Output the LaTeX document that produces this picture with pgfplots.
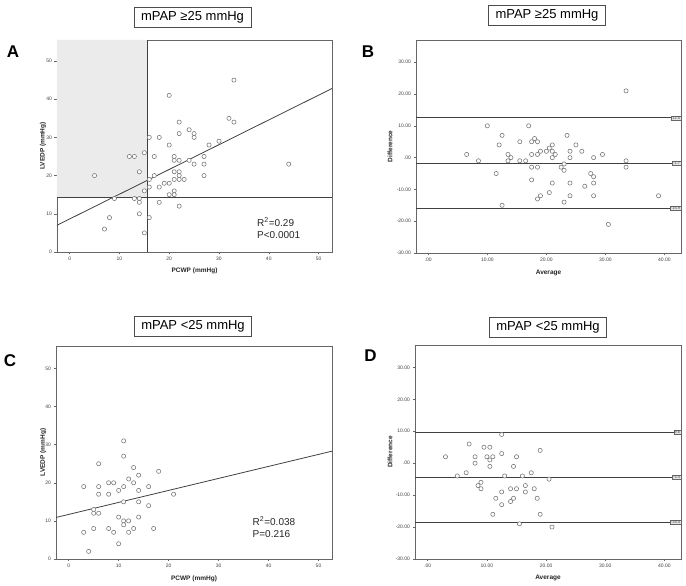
\documentclass[border=0pt]{standalone}
\usepackage{pgfplots}
\pgfplotsset{compat=1.18}
\usepackage{fontspec}
\setmainfont{Liberation Sans}
\begin{document}
\begin{tikzpicture}[x=1pt,y=1pt]
\path[use as bounding box] (0,0) rectangle (686,586);
\pgfplotsset{
  panel/.style={scale only axis, anchor=south west,
    axis line style={black!60, line width=0.9pt},
    tick style={black!60, line width=0.5pt}, major tick length=2.5pt,
    tick align=outside, tick pos=left,
    ticklabel style={font=\fontsize{5}{6}\selectfont, text=black!75},
    xticklabel style={yshift=1pt}, yticklabel style={xshift=1pt},
    /pgf/number format/assume math mode=true,
    label style={font=\fontsize{6.5}{7}\selectfont\bfseries, text=black!85}},
  pts/.style={only marks, mark=*, mark size=2.1pt, mark options={draw=black!55, fill=white, line width=0.55pt}},
  fitline/.style={black!75, line width=0.8pt, no marks},
}
\tikzset{
  ba/.style={anchor=east, draw=black!60, fill=black!10, inner sep=0.7pt, font=\fontsize{4}{4.5}\selectfont, text=black!70},
  ttl/.style={draw=black!70, line width=0.8pt, minimum width=117pt, minimum height=20pt, inner sep=1pt, font=\fontsize{13}{14}\selectfont},
  letter/.style={font=\fontsize{17}{18}\selectfont\bfseries},
  stat/.style={anchor=west, align=left, font=\fontsize{10}{12}\selectfont, text=black!85},
}
% ---------------- A ----------------
\begin{axis}[panel, at={(57pt,334pt)}, width=275pt, height=212pt,
  xmin=-2.54, xmax=52.7, ymin=0, ymax=55.5,
  xtick={0,10,...,50}, ytick={0,10,...,50},
  xlabel={PCWP (mmHg)}, ylabel={LVEDP (mmHg)},
  xlabel style={at={(axis description cs:0.5,-0.088)}, anchor=center},
  ylabel style={at={(axis description cs:-0.051,0.5)}, anchor=center}]
\addplot[fill=black!8, draw=none] coordinates {(-2.54,14.3) (15.7,14.3) (15.7,55.5) (-2.54,55.5)} \closedcycle;
\addplot[fitline] coordinates {(15.7,0) (15.7,55.5)};
\addplot[fitline] coordinates {(-2.54,14.3) (52.7,14.3)};
\addplot[fitline] coordinates {(-2.54,7.0) (52.7,42.8)};
\addplot[pts] table {
5 20
7 6
8 9
9 14
12 25
13 25
13 14
14 14
14 13
14 21
14 10
15 5
15 26
15 16
16 30
16 19
16 17
16 9
17 25
17 20
18 17
18 30
18 13
19 18
20 41
20 28
20 18
20 15
21 25
21 24
21 21
21 19
21 16
21 15
22 34
22 31
22 24
22 21
22 20
22 19
22 12
23 19
24 32
24 24
25 31
25 30
25 23
27 25
27 23
27 20
28 28
30 29
32 35
33 34
33 45
44 23
};
\node[stat] at (rel axis cs:0.715,0.113) {R\textsuperscript{2}=0.29\\P<0.0001};
\end{axis}
% ---------------- B ----------------
\begin{axis}[panel, at={(416pt,333pt)}, width=265pt, height=213pt,
  xmin=-2.08, xmax=42.8, ymin=-30, ymax=37,
  xtick={0,10,20,30,40}, xticklabels={.00,10.00,20.00,30.00,40.00},
  ytick={-30,-20,...,30}, yticklabels={-30.00,-20.00,-10.00,.00,10.00,20.00,30.00},
  xlabel={Average}, ylabel={Difference},
  xlabel style={at={(axis description cs:0.5,-0.095)}, anchor=center},
  ylabel style={at={(axis description cs:-0.098,0.5)}, anchor=center}]
\addplot[fitline] coordinates {(-2.08,12.5) (42.8,12.5)};
\addplot[fitline] coordinates {(-2.08,-1.8) (42.8,-1.8)};
\addplot[fitline] coordinates {(-2.08,-16.0) (42.8,-16.0)};
\addplot[pts] table {
6.5 1
8.5 -1
10 10
11.5 -5
12 4
12.5 7
12.5 -15
13.5 1
13.5 -1
14 0
15.5 5
15.5 -1
16.5 -1
17 10
17.5 5
17.5 1
17.5 -3
17.5 -7
18 6
18.5 5
18.5 1
18.5 -3
18.5 -13
19 2
19 -12
20 2
20.5 3
20.5 -11
21 4
21 2
21 0
21 -8
21.5 1
22.5 -3
23 -2
23 -4
23 -14
23.5 7
24 2
24 0
24 -8
24 -12
25 4
26 2
26.5 -9
27.5 -5
28 -6
28 0
28 -8
28 -12
29.5 1
30.5 -21
33.5 21
33.5 -1
33.5 -3
39 -12
};
\node[ba] at (axis cs:42.8,12.5) {12.5};
\node[ba] at (axis cs:42.8,-1.8) {-1.7};
\node[ba] at (axis cs:42.8,-16.0) {-15.9};
\end{axis}
% ---------------- C ----------------
\begin{axis}[panel, at={(56pt,27pt)}, width=276pt, height=213pt,
  xmin=-2.54, xmax=52.7, ymin=0, ymax=55.9,
  xtick={0,10,...,50}, ytick={0,10,...,50},
  xlabel={PCWP (mmHg)}, ylabel={LVEDP (mmHg)},
  xlabel style={at={(axis description cs:0.5,-0.095)}, anchor=center},
  ylabel style={at={(axis description cs:-0.046,0.5)}, anchor=center}]
\addplot[fitline] coordinates {(-2.54,10.9) (52.7,28.3)};
\addplot[pts] table {
3 19
3 7
4 2
5 13
5 12
5 8
6 25
6 19
6 17
6 12
8 20
8 17
8 8
9 20
9 7
10 18
10 11
10 4
11 31
11 27
11 19
11 15
11 10
11 9
12 21
12 10
12 7
13 24
13 20
13 8
14 22
14 18
14 15
14 11
16 19
16 14
17 8
18 23
21 17
};
\node[stat] at (rel axis cs:0.7,0.149) {R\textsuperscript{2}=0.038\\P=0.216};
\end{axis}
% ---------------- D ----------------
\begin{axis}[panel, at={(415pt,27pt)}, width=266pt, height=214pt,
  xmin=-2.15, xmax=42.8, ymin=-30, ymax=37,
  xtick={0,10,20,30,40}, xticklabels={.00,10.00,20.00,30.00,40.00},
  ytick={-30,-20,...,30}, yticklabels={-30.00,-20.00,-10.00,.00,10.00,20.00,30.00},
  xlabel={Average}, ylabel={Difference},
  xlabel style={at={(axis description cs:0.5,-0.09)}, anchor=center},
  ylabel style={at={(axis description cs:-0.094,0.5)}, anchor=center}]
\addplot[fitline] coordinates {(-2.15,9.6) (42.8,9.6)};
\addplot[fitline] coordinates {(-2.15,-4.3) (42.8,-4.3)};
\addplot[fitline] coordinates {(-2.15,-18.4) (42.8,-18.4)};
\addplot[pts] table {
3 2
5 -4
6.5 -3
7 6
8 2
8 0
8.5 -7
9 -6
9 -8
9.5 5
10 2
10.5 5
10.5 1
10.5 -1
11 2
11 -16
11.5 -11
12.5 9
12.5 3
12.5 -9
12.5 -13
13 -4
14 -8
14 -12
14.5 -1
14.5 -11
15 2
15 -8
15.5 -19
16 -4
16.5 -7
16.5 -9
17.5 -3
18 -8
18.5 -11
19 4
19 -16
20.5 -5
21 -20
};
\node[ba] at (axis cs:42.8,9.6) {9.6};
\node[ba] at (axis cs:42.8,-4.3) {-4.4};
\node[ba] at (axis cs:42.8,-18.4) {-18.4};
\end{axis}
% titles and panel letters
\node[ttl] at (192.5,568.5) {mPAP ≥25 mmHg};
\node[ttl] at (547,571) {mPAP ≥25 mmHg};
\node[ttl] at (193,259.5) {mPAP <25 mmHg};
\node[ttl] at (548,259) {mPAP <25 mmHg};
\node[letter] at (13,534) {A};
\node[letter] at (368,534) {B};
\node[letter] at (10,225) {C};
\node[letter] at (370.5,230) {D};
\end{tikzpicture}
\end{document}
